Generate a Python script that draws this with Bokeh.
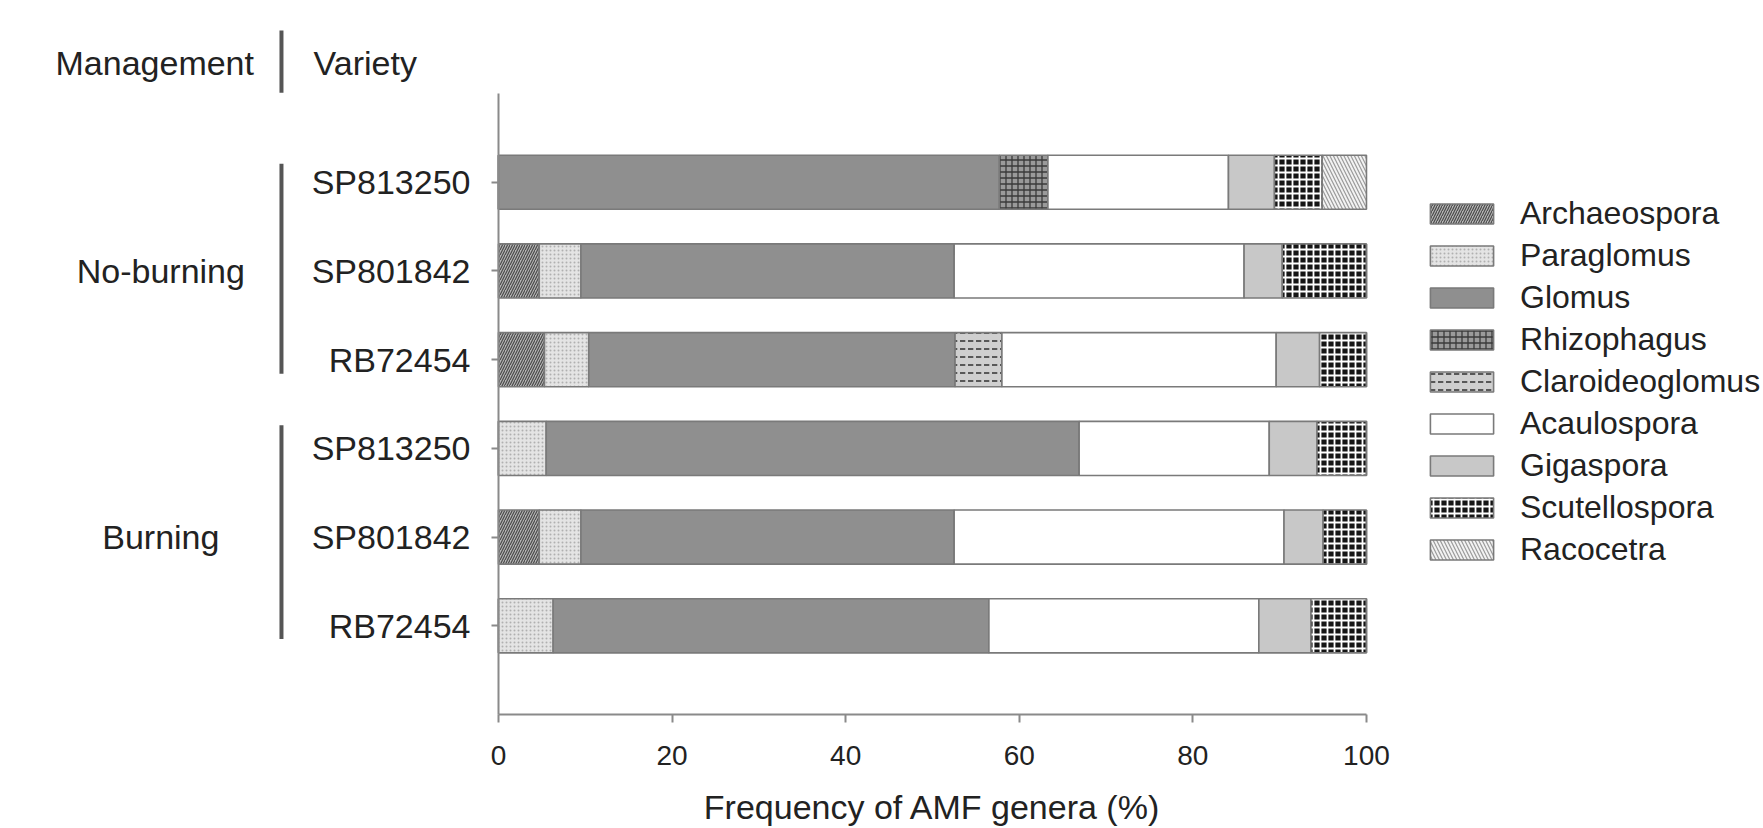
from bokeh.plotting import figure
from bokeh.models import (ColumnDataSource, FixedTicker, Legend, LegendItem,
                          Label, Arrow, Range1d, LinearAxis)
from bokeh.embed import file_html
from bokeh.resources import INLINE

# ---------------- data ----------------
management = ["No-burning", "No-burning", "No-burning", "Burning", "Burning", "Burning"]
varieties = ["SP813250", "SP801842", "RB72454", "SP813250", "SP801842", "RB72454"]
row_pos = [6, 5, 4, 3, 2, 1]

genera = ["Archaeospora", "Paraglomus", "Glomus", "Rhizophagus", "Claroideoglomus",
          "Acaulospora", "Gigaspora", "Scutellospora", "Racocetra"]

archaeospora = [0.0, 4.7, 5.3, 0.0, 4.7, 0.0]
paraglomus = [0.0, 4.8, 5.1, 5.5, 4.8, 6.3]
glomus = [57.7, 43.0, 42.2, 61.4, 43.0, 50.2]
rhizophagus = [5.6, 0.0, 0.0, 0.0, 0.0, 0.0]
claroideoglomus = [0.0, 0.0, 5.4, 0.0, 0.0, 0.0]
acaulospora = [20.8, 33.4, 31.6, 21.9, 38.0, 31.1]
gigaspora = [5.3, 4.4, 5.0, 5.5, 4.5, 6.0]
scutellospora = [5.5, 9.7, 5.4, 5.7, 5.0, 6.4]
racocetra = [5.1, 0.0, 0.0, 0.0, 0.0, 0.0]

x_ticks = [0, 20, 40, 60, 80, 100]
x_title = "Frequency of AMF genera (%)"

# ---------------- styles ----------------
FONT = "Liberation Sans"
fills = ["#b5b5b5", "#e4e4e4", "#8f8f8f", "#9a9a9a", "#cfcfcf",
         "#ffffff", "#c8c8c8", "#151515", "#f2f2f2"]
hatches = ["/", ".", " ", "+", '"', " ", " ", "+", "\\"]
hatch_colors = ["#4a4a4a", "#b0b0b0", "#000000", "#3a3a3a", "#3a3a3a",
                "#000000", "#000000", "#ffffff", "#9a9a9a"]
hatch_scales = [5, 4, 6, 6, 8, 6, 6, 7, 7]
hatch_weights = [1.2, 1, 1, 1.3, 1.6, 1, 1, 1.8, 1.2]

src = ColumnDataSource(dict(
    y=row_pos, variety=varieties, management=management,
    Archaeospora=archaeospora, Paraglomus=paraglomus, Glomus=glomus,
    Rhizophagus=rhizophagus, Claroideoglomus=claroideoglomus,
    Acaulospora=acaulospora, Gigaspora=gigaspora,
    Scutellospora=scutellospora, Racocetra=racocetra,
))

p = figure(width=1763, height=828,
           x_range=Range1d(-57.37, 145.74), y_range=Range1d(-1.285, 8.049),
           output_backend="svg", toolbar_location=None,
           x_axis_location=None, y_axis_location=None,
           min_border_left=0, min_border_top=0,
           min_border_right=0, min_border_bottom=0)
p.outline_line_color = None
p.xgrid.grid_line_color = None
p.ygrid.grid_line_color = None
p.background_fill_color = "white"
p.border_fill_color = "white"

renderers = p.hbar_stack(genera, y="y", height=0.61, source=src,
                         fill_color=fills, hatch_pattern=hatches,
                         hatch_color=hatch_colors, hatch_scale=hatch_scales,
                         hatch_weight=hatch_weights,
                         line_color="#7a7a7a", line_width=1.6)

# x axis (fixed at y = 0)
xa = LinearAxis(fixed_location=0, bounds=(0, 100))
xa.ticker = FixedTicker(ticks=x_ticks)
xa.minor_tick_line_color = None
xa.axis_line_color = "#8a8a8a"
xa.axis_line_width = 2
xa.major_tick_line_color = "#8a8a8a"
xa.major_tick_line_width = 2
xa.major_tick_out = 8
xa.major_tick_in = 0
xa.major_label_text_font = FONT
xa.major_label_text_font_size = "28px"
xa.major_label_text_color = "#222222"
xa.major_label_standoff = 23
p.add_layout(xa, "below")

# x axis title, centred under the 0-100 axis
p.add_layout(Label(x=50, y=-1.04, text=x_title, text_align="center",
                   text_baseline="middle", text_font=FONT,
                   text_font_size="34px", text_color="#222222"))

# y axis (fixed at x = 0)
ya = LinearAxis(fixed_location=0, bounds=(0, 7))
ya.ticker = FixedTicker(ticks=row_pos)
ya.major_label_overrides = {pos: v for pos, v in zip(row_pos, varieties)}
ya.minor_tick_line_color = None
ya.axis_line_color = "#8a8a8a"
ya.axis_line_width = 2
ya.major_tick_line_color = "#8a8a8a"
ya.major_tick_line_width = 2
ya.major_tick_out = 7
ya.major_tick_in = 0
ya.major_label_standoff = 21
ya.major_label_text_font = FONT
ya.major_label_text_font_size = "34px"
ya.major_label_text_color = "#222222"
p.add_layout(ya, "left")

# legend
legend = Legend(items=[LegendItem(label=g, renderers=[r]) for g, r in zip(genera, renderers)],
                location=(1422, 260), orientation="vertical",
                glyph_width=79, glyph_height=25, label_height=25,
                label_standoff=19, spacing=5, padding=0, margin=0,
                border_line_color=None, background_fill_alpha=0,
                label_text_font=FONT, label_text_font_size="32px",
                label_text_color="#222222")
p.add_layout(legend)

# management / variety header and group labels
TXT = dict(text_font=FONT, text_font_size="34px", text_color="#222222",
           text_baseline="middle")
p.add_layout(Label(x=-39.6, y=7.35, text="Management", text_align="center", **TXT))
p.add_layout(Label(x=-21.3, y=7.35, text="Variety", text_align="left", **TXT))
p.add_layout(Label(x=-38.9, y=5.0, text="No-burning", text_align="center", **TXT))
p.add_layout(Label(x=-38.9, y=2.0, text="Burning", text_align="center", **TXT))

for y0, y1 in [(7.71, 7.01), (6.21, 3.84), (3.26, 0.85)]:
    p.add_layout(Arrow(x_start=-25.0, y_start=y0, x_end=-25.0, y_end=y1,
                       end=None, start=None, line_width=4, line_color="#555555"))

open("out.html", "w").write(file_html(p, INLINE))
